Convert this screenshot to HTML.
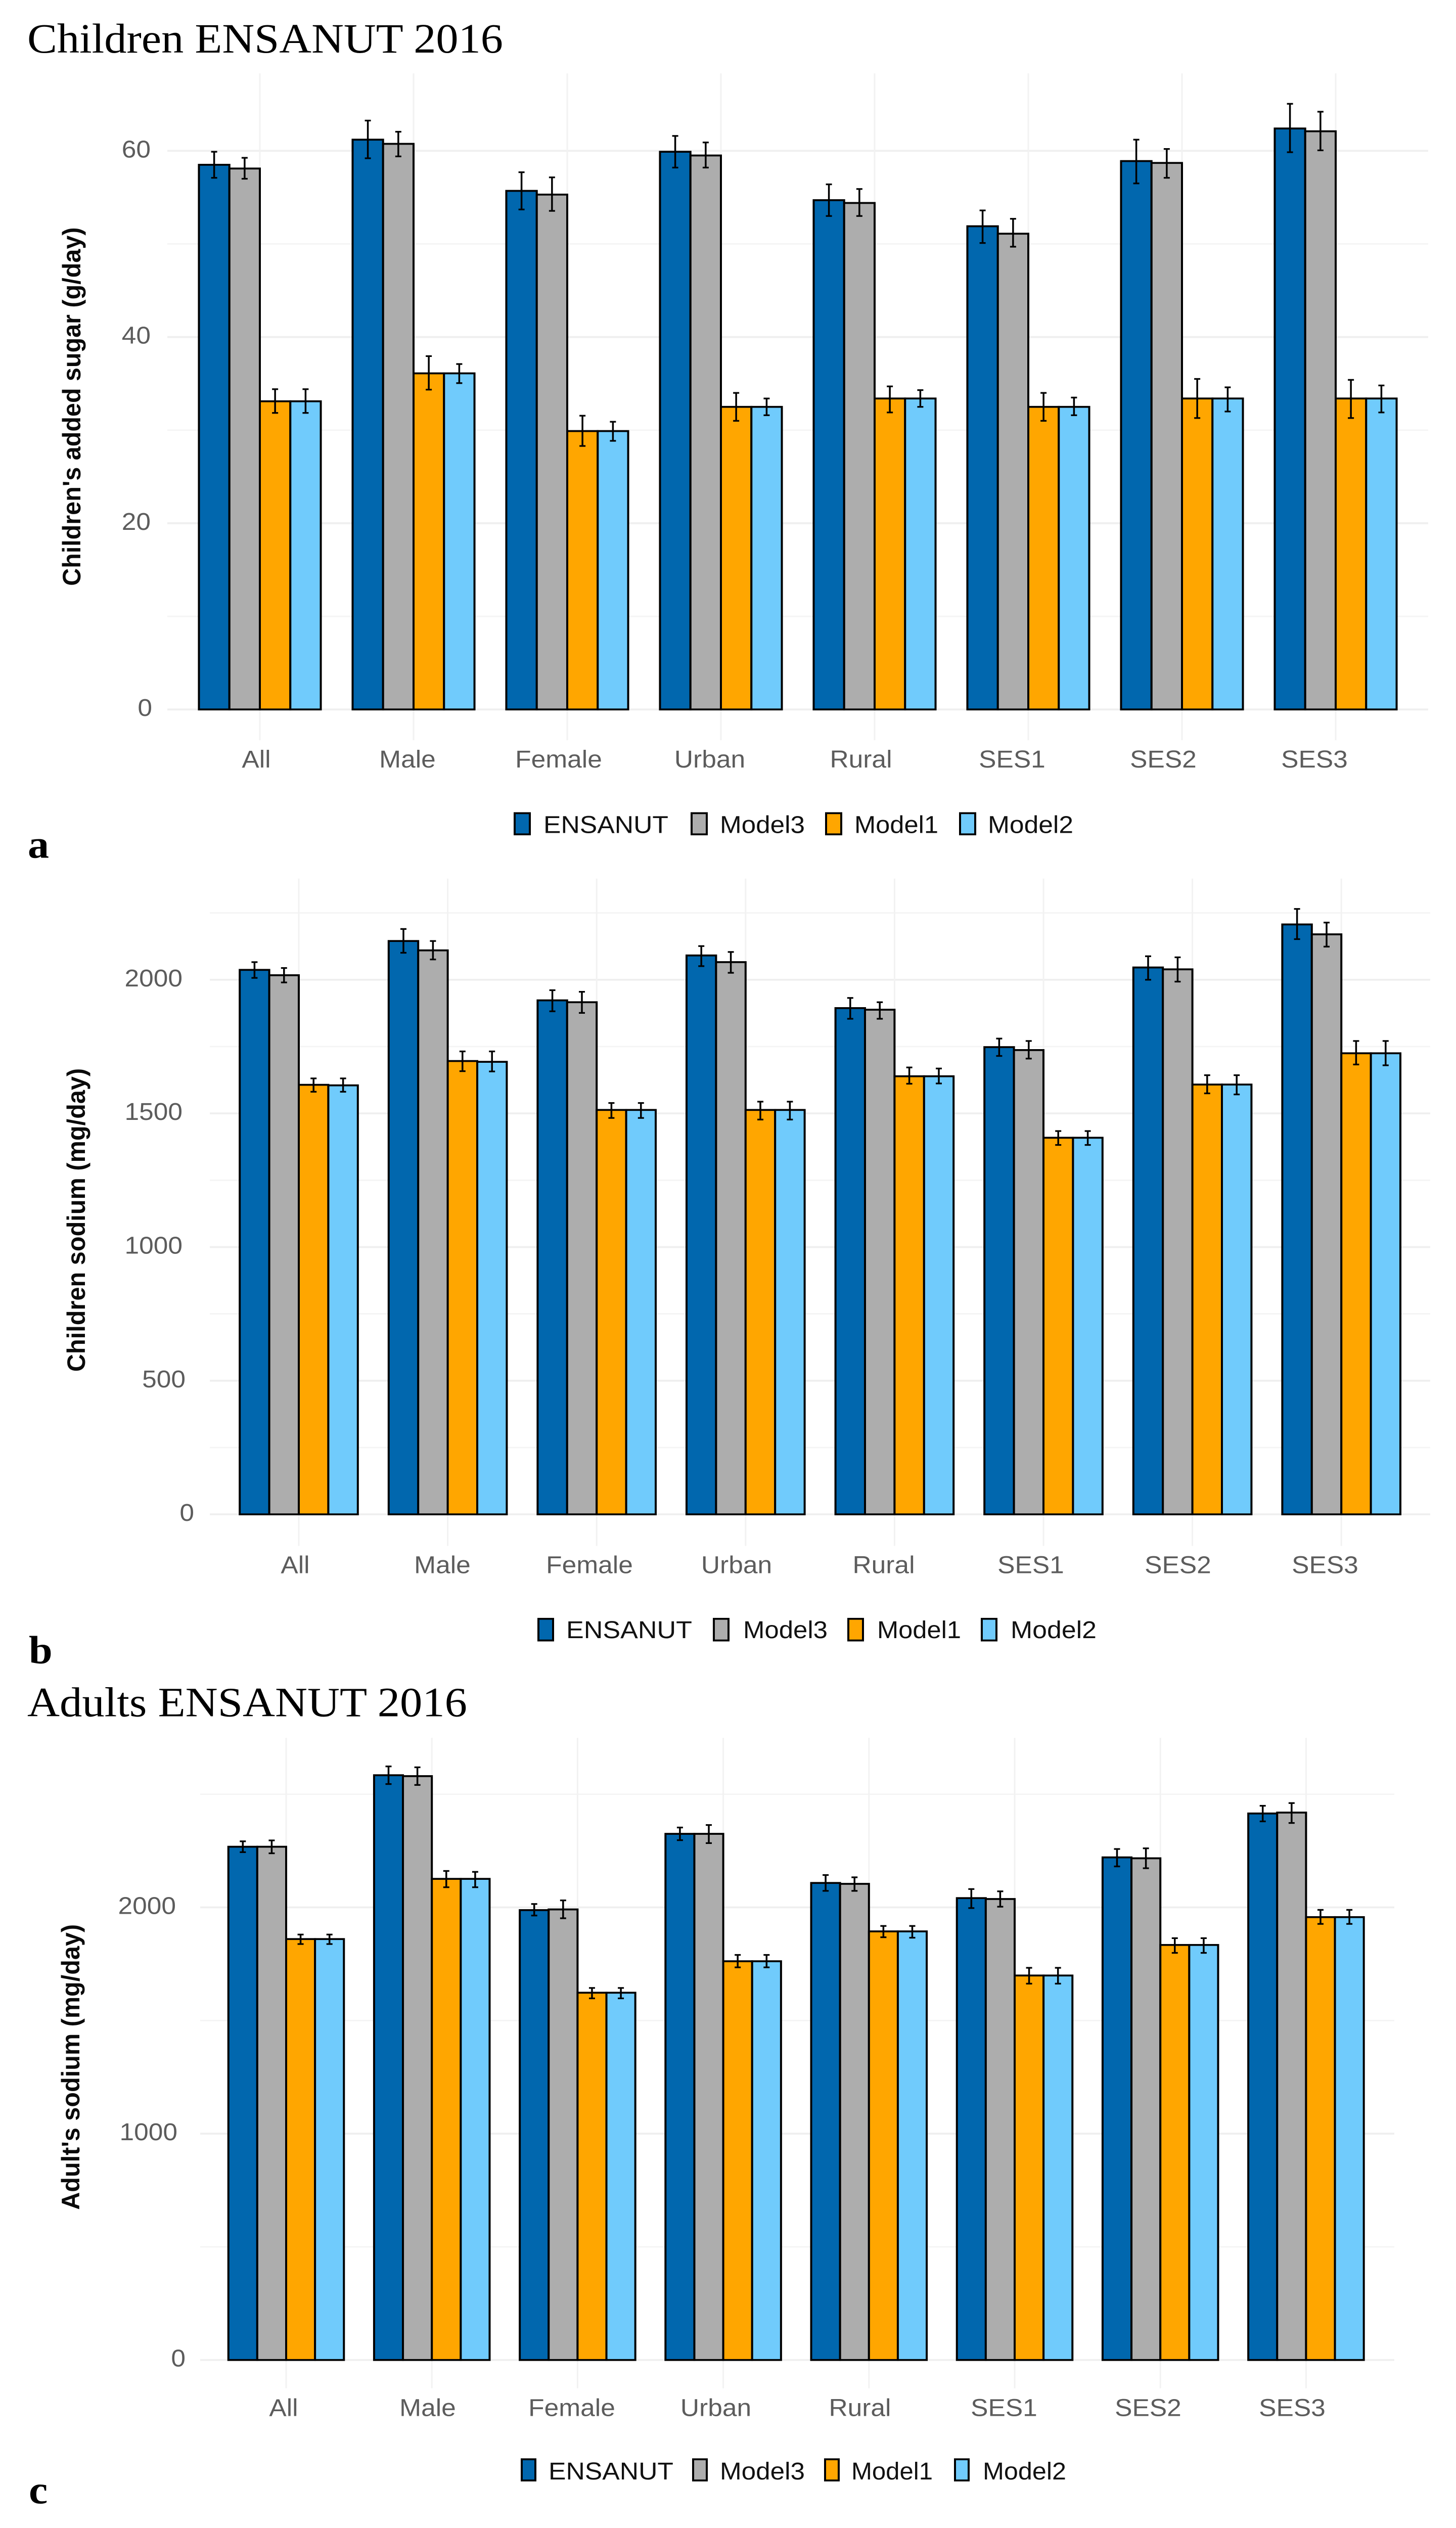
<!DOCTYPE html>
<html lang="en">
<head>
<meta charset="utf-8">
<title>ENSANUT 2016 added sugar and sodium charts</title>
<style>
html,body{margin:0;padding:0;background:#fff;width:2880px;height:5372px;}
#figure{display:block;position:absolute;left:0;top:0;width:2880px;height:5372px;}
.fig-title{font-family:"Liberation Serif",serif;font-size:89px;fill:#000;}
.panel-tag{font-family:"Liberation Serif",serif;font-weight:bold;font-size:84px;fill:#000;}
.y-title{font-family:"Liberation Sans",sans-serif;font-weight:bold;font-size:50px;fill:#0a0a0a;}
.tick{font-family:"Liberation Sans",sans-serif;font-size:51.5px;fill:#5c5c5c;}
.legend-text{font-family:"Liberation Sans",sans-serif;font-size:51.5px;fill:#111;}
</style>
</head>
<body>
<svg id="figure" xmlns="http://www.w3.org/2000/svg" width="2880" height="5372" viewBox="0 0 2880 5372" preserveAspectRatio="none">
  <rect x="0" y="0" width="2880" height="5372" fill="#ffffff"/>
  <text class="fig-title" x="54" y="112" textLength="941" lengthAdjust="spacingAndGlyphs">Children ENSANUT 2016</text>
  <text class="fig-title" x="54" y="3647" textLength="870" lengthAdjust="spacingAndGlyphs">Adults ENSANUT 2016</text>
  <text class="panel-tag" x="55" y="1823">a</text>
  <text class="panel-tag" x="57" y="3535">b</text>
  <text class="panel-tag" x="57" y="5320">c</text>

  <g id="chart-a"></g>
  <g id="chart-b"></g>
  <g id="chart-c"></g>

  <text class="y-title" transform="translate(159,1245) rotate(-90)" textLength="762" lengthAdjust="spacingAndGlyphs">Children's added sugar (g/day)</text>
  <text class="y-title" transform="translate(168,2915) rotate(-90)" textLength="645" lengthAdjust="spacingAndGlyphs">Children sodium (mg/day)</text>
  <text class="y-title" transform="translate(157,4696) rotate(-90)" textLength="607" lengthAdjust="spacingAndGlyphs">Adult's sodium (mg/day)</text>

  <g>
    <rect x="1018" y="1728" width="30" height="45" fill="#0167ae" stroke="#000" stroke-width="4"/>
    <text class="legend-text" x="1075" y="1770" textLength="247" lengthAdjust="spacingAndGlyphs">ENSANUT</text>
    <rect x="1368" y="1728" width="30" height="45" fill="#adadad" stroke="#000" stroke-width="4"/>
    <text class="legend-text" x="1424" y="1770" textLength="168" lengthAdjust="spacingAndGlyphs">Model3</text>
    <rect x="1634" y="1728" width="30" height="45" fill="#ffa600" stroke="#000" stroke-width="4"/>
    <text class="legend-text" x="1690" y="1770" textLength="166" lengthAdjust="spacingAndGlyphs">Model1</text>
    <rect x="1899" y="1728" width="30" height="45" fill="#70cbfc" stroke="#000" stroke-width="4"/>
    <text class="legend-text" x="1954" y="1770" textLength="169" lengthAdjust="spacingAndGlyphs">Model2</text>
  </g>
  <g>
    <rect x="1065" y="3440" width="29" height="46" fill="#0167ae" stroke="#000" stroke-width="4"/>
    <text class="legend-text" x="1120" y="3481" textLength="249" lengthAdjust="spacingAndGlyphs">ENSANUT</text>
    <rect x="1412" y="3440" width="29" height="46" fill="#adadad" stroke="#000" stroke-width="4"/>
    <text class="legend-text" x="1470" y="3481" textLength="167" lengthAdjust="spacingAndGlyphs">Model3</text>
    <rect x="1678" y="3440" width="29" height="46" fill="#ffa600" stroke="#000" stroke-width="4"/>
    <text class="legend-text" x="1735" y="3481" textLength="166" lengthAdjust="spacingAndGlyphs">Model1</text>
    <rect x="1942" y="3440" width="29" height="46" fill="#70cbfc" stroke="#000" stroke-width="4"/>
    <text class="legend-text" x="1999" y="3481" textLength="170" lengthAdjust="spacingAndGlyphs">Model2</text>
  </g>
  <g>
    <rect x="1032" y="5226" width="27" height="45" fill="#0167ae" stroke="#000" stroke-width="4"/>
    <text class="legend-text" x="1085" y="5269" textLength="247" lengthAdjust="spacingAndGlyphs">ENSANUT</text>
    <rect x="1371" y="5226" width="27" height="45" fill="#adadad" stroke="#000" stroke-width="4"/>
    <text class="legend-text" x="1424" y="5269" textLength="168" lengthAdjust="spacingAndGlyphs">Model3</text>
    <rect x="1632" y="5226" width="27" height="45" fill="#ffa600" stroke="#000" stroke-width="4"/>
    <text class="legend-text" x="1684" y="5269" textLength="161" lengthAdjust="spacingAndGlyphs">Model1</text>
    <rect x="1889" y="5226" width="27" height="45" fill="#70cbfc" stroke="#000" stroke-width="4"/>
    <text class="legend-text" x="1944" y="5269" textLength="165" lengthAdjust="spacingAndGlyphs">Model2</text>
  </g>
</svg>

<script>
// ---- shared categories and series ----
const categories = ['All','Male','Female','Urban','Rural','SES1','SES2','SES3'];
const seriesNames = ['ENSANUT','Model3','Model1','Model2'];

// ---- chart a: children's added sugar (g/day) ----
const sugarTicks = [0,20,40,60];
const sugarMinorTicks = [10,30,50];
const sugarEnsanut = [58.5,61.2,55.7,59.9,54.7,51.9,58.9,62.4];
const sugarEnsanutLow = [57.1,59.2,53.7,58.2,53.0,50.1,56.5,59.85];
const sugarEnsanutHigh = [59.9,63.25,57.7,61.6,56.4,53.6,61.2,65.05];
const sugarModel3 = [58.1,60.75,55.3,59.5,54.4,51.1,58.7,62.1];
const sugarModel3Low = [57.0,59.4,53.55,58.2,53.0,49.7,57.1,60.05];
const sugarModel3High = [59.25,62.05,57.15,60.9,55.9,52.7,60.2,64.2];
const sugarModel1 = [33.1,36.1,29.9,32.5,33.4,32.5,33.4,33.4];
const sugarModel1Low = [31.85,34.35,28.3,31.0,31.9,31.0,31.3,31.3];
const sugarModel1High = [34.4,37.95,31.55,34.0,34.7,34.0,35.5,35.4];
const sugarModel2 = [33.1,36.1,29.9,32.5,33.4,32.5,33.4,33.4];
const sugarModel2Low = [31.85,35.05,28.85,31.6,32.5,31.6,32.0,31.9];
const sugarModel2High = [34.4,37.1,30.9,33.4,34.3,33.5,34.6,34.8];

// ---- chart b: children's sodium (mg/day) ----
const childSodiumTicks = [0,500,1000,1500,2000];
const childSodiumMinorTicks = [250,750,1250,1750,2250];
const childEnsanut = [2037,2145,1923,2091,1894,1748,2046,2207];
const childEnsanutLow = [2007,2101,1882,2051,1854,1715,2000,2152];
const childEnsanutHigh = [2066,2190,1961,2126,1932,1780,2088,2265];
const childModel3 = [2017,2110,1916,2066,1888,1737,2039,2170];
const childModel3Low = [1990,2076,1876,2026,1854,1705,1993,2124];
const childModel3High = [2044,2145,1955,2104,1916,1771,2084,2214];
const childModel1 = [1607,1696,1513,1513,1639,1409,1608,1725];
const childModel1Low = [1581,1658,1483,1477,1611,1382,1575,1683];
const childModel1High = [1631,1732,1539,1544,1672,1434,1643,1771];
const childModel2 = [1605,1693,1513,1513,1639,1409,1608,1725];
const childModel2Low = [1581,1657,1483,1477,1612,1382,1571,1680];
const childModel2High = [1631,1732,1539,1544,1668,1434,1643,1771];

// ---- chart c: adults' sodium (mg/day) ----
const adultSodiumTicks = [0,1000,2000];
const adultSodiumMinorTicks = [500,1500,2500];
const adultEnsanut = [2268,2584,1988,2325,2108,2041,2221,2415];
const adultEnsanutLow = [2244,2545,1964,2297,2073,1997,2181,2380];
const adultEnsanutHigh = [2292,2623,2015,2353,2143,2081,2258,2449];
const adultModel3 = [2268,2580,1991,2325,2104,2037,2217,2419];
const adultModel3Low = [2239,2541,1952,2284,2073,2003,2173,2373];
const adultModel3High = [2296,2619,2031,2364,2133,2071,2261,2461];
const adultModel1 = [1860,2126,1623,1762,1894,1699,1834,1957];
const adultModel1Low = [1838,2089,1598,1735,1868,1663,1799,1927];
const adultModel1High = [1880,2161,1644,1790,1918,1733,1864,1989];
const adultModel2 = [1860,2126,1623,1762,1894,1699,1834,1957];
const adultModel2Low = [1838,2089,1598,1735,1866,1663,1799,1927];
const adultModel2High = [1880,2157,1644,1790,1918,1733,1864,1989];

// ---- styles and layout (not data) ----
const seriesColors = ['#0167ae','#adadad','#ffa600','#70cbfc'];
const svgNS = 'http://www.w3.org/2000/svg';

function make(tag, parent, attrs) {
  const el = document.createElementNS(svgNS, tag);
  for (const k in attrs) el.setAttribute(k, attrs[k]);
  parent.appendChild(el);
  return el;
}

function drawChart(cfg) {
  const root = document.getElementById(cfg.id);
  // axis functions
  const xCenter = i => cfg.xStart + i * cfg.xStep;
  const yPos = v => cfg.y0 - v * cfg.yScale;
  const labelX = i => cfg.labelStart + i * cfg.labelStep;
  const slot = cfg.xStep * 0.793 / seriesNames.length;
  const barX = (i, s) => xCenter(i) - 2 * slot + s * slot;

  // gridlines
  cfg.minor.forEach(function (v) {
    const line = make('line', root, {x1: cfg.left, x2: cfg.right, y1: yPos(v), y2: yPos(v), stroke: '#f4f4f4', 'stroke-width': 3});
    
    
  });
  cfg.ticks.forEach(function (v) {
    const line = make('line', root, {x1: cfg.left, x2: cfg.right, y1: yPos(v), y2: yPos(v), stroke: '#efefef', 'stroke-width': 4});
    
    
  });
  categories.forEach(function (c, i) {
    const line = make('line', root, {x1: xCenter(i), x2: xCenter(i), y1: cfg.top, y2: cfg.bottom, stroke: '#f2f2f2', 'stroke-width': 3});
    
    
  });

  // bars
  cfg.series.forEach(function (values, s) {
    values.forEach(function (v, i) {
      const bar = make('rect', root, {
        x: barX(i, s), y: yPos(v), width: slot, height: yPos(0) - yPos(v),
        fill: seriesColors[s], stroke: '#000', 'stroke-width': 4
      });
      
      
    });
  });

  // error bars
  cfg.series.forEach(function (values, s) {
    values.forEach(function (v, i) {
      const cx = barX(i, s) + slot / 2;
      const lo = yPos(cfg.low[s][i]);
      const hi = yPos(cfg.high[s][i]);
      const stem = make('line', root, {x1: cx, x2: cx, y1: hi, y2: lo, stroke: '#000', 'stroke-width': 3.5});
      
      
      const capTop = make('line', root, {x1: cx - 6, x2: cx + 6, y1: hi, y2: hi, stroke: '#000', 'stroke-width': 3.5});
      
      
      const capBottom = make('line', root, {x1: cx - 6, x2: cx + 6, y1: lo, y2: lo, stroke: '#000', 'stroke-width': 3.5});
      
      
    });
  });

  // y tick labels
  cfg.ticks.forEach(function (v) {
    const t = make('text', root, {x: cfg.tickRight[v], y: yPos(v) + 14, 'text-anchor': 'end', class: 'tick'});
    t.textContent = String(v);
    
    
  });

  // x tick labels
  categories.forEach(function (c, i) {
    const t = make('text', root, {x: labelX(i), y: cfg.labelY, 'text-anchor': 'middle', class: 'tick'});
    t.textContent = c;
    
    
  });
}

drawChart({
  id: 'chart-a', xStart: 514, xStep: 304, y0: 1507.6, yScale: 19.785,
  left: 331, right: 2825, top: 156, bottom: 1573,
  labelStart: 507, labelStep: 299, labelY: 1631,
  tickRight: {0: 301, 20: 298, 40: 298, 60: 298},
  ticks: sugarTicks, minor: sugarMinorTicks,
  series: [sugarEnsanut, sugarModel3, sugarModel1, sugarModel2],
  low: [sugarEnsanutLow, sugarModel3Low, sugarModel1Low, sugarModel2Low],
  high: [sugarEnsanutHigh, sugarModel3High, sugarModel1High, sugarModel2High]
});
drawChart({
  id: 'chart-b', xStart: 591, xStep: 294.6, y0: 3218, yScale: 0.568,
  left: 415, right: 2829, top: 1867, bottom: 3285,
  labelStart: 584, labelStep: 291, labelY: 3343,
  tickRight: {0: 384, 500: 367, 1000: 361, 1500: 361, 2000: 361},
  ticks: childSodiumTicks, minor: childSodiumMinorTicks,
  series: [childEnsanut, childModel3, childModel1, childModel2],
  low: [childEnsanutLow, childModel3Low, childModel1Low, childModel2Low],
  high: [childEnsanutHigh, childModel3High, childModel1High, childModel2High]
});
drawChart({
  id: 'chart-c', xStart: 566, xStep: 288.2, y0: 5015, yScale: 0.4809,
  left: 396, right: 2758, top: 3693, bottom: 5075,
  labelStart: 561, labelStep: 285, labelY: 5134,
  tickRight: {0: 367, 1000: 351, 2000: 348},
  ticks: adultSodiumTicks, minor: adultSodiumMinorTicks,
  series: [adultEnsanut, adultModel3, adultModel1, adultModel2],
  low: [adultEnsanutLow, adultModel3Low, adultModel1Low, adultModel2Low],
  high: [adultEnsanutHigh, adultModel3High, adultModel1High, adultModel2High]
});

// fit the figure to a shorter viewport so the lower chart is never cut off
const frameHeight = window.innerHeight;
if (frameHeight >= 3000 && frameHeight < 5372) {
  const figure = document.getElementById('figure');
  figure.setAttribute('height', frameHeight);
  figure.style.height = frameHeight + 'px';
  document.documentElement.style.height = frameHeight + 'px';
  document.body.style.height = frameHeight + 'px';
}
</script>
</body>
</html>
